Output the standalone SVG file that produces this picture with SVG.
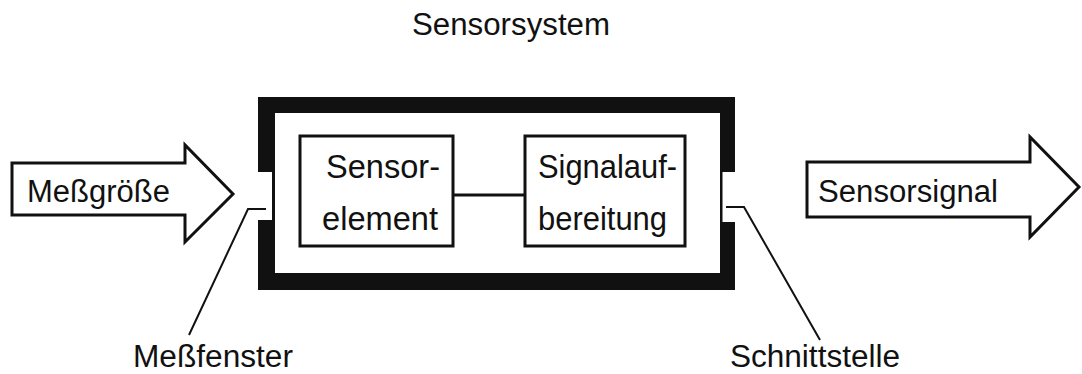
<svg xmlns="http://www.w3.org/2000/svg" width="1082" height="374" viewBox="0 0 1082 374">
<style>
text{font-family:"Liberation Sans",Arial,sans-serif;fill:#111}
.big{font-size:31px}
.box{fill:#fff;stroke:#111;stroke-width:3}
.arrow{fill:#fff;stroke:#111;stroke-width:3;stroke-linejoin:miter}
.frame{fill:#111}
.line{stroke:#111;fill:none}
</style>
<rect width="1082" height="374" fill="#fff"/>
<g id="title"><text class="big" x="412" y="35" textLength="198" lengthAdjust="spacingAndGlyphs">Sensorsystem</text></g>
<g id="input-arrow">
<polygon class="arrow" points="12,163 185,163 185,145 233,194 185,242 185,215 12,215"/>
<text class="big" x="27" y="202" textLength="143" lengthAdjust="spacingAndGlyphs">Meßgröße</text>
</g>
<g id="output-arrow">
<polygon class="arrow" points="807,162 1030,162 1030,137 1079,187 1030,237 1030,217 807,217"/>
<text class="big" x="818" y="202" textLength="180" lengthAdjust="spacingAndGlyphs">Sensorsignal</text>
</g>
<g id="sensor-frame">
<rect class="frame" x="258" y="97" width="477" height="16"/>
<rect class="frame" x="258" y="273" width="477" height="17"/>
<rect class="frame" x="258" y="97" width="17" height="75"/>
<rect class="frame" x="258" y="220" width="17" height="70"/>
<rect class="frame" x="720" y="97" width="15" height="75"/>
<rect class="frame" x="720" y="222" width="15" height="68"/>
<rect class="frame" x="272" y="170" width="3" height="52"/>
<rect class="frame" x="720" y="170" width="2.5" height="54"/>
</g>
<g id="sensorelement">
<rect class="box" x="300" y="136" width="153" height="110"/>
<text class="big" x="326" y="178" textLength="114" lengthAdjust="spacingAndGlyphs" style="font-size:33px">Sensor-</text>
<text class="big" x="322" y="230" textLength="116" lengthAdjust="spacingAndGlyphs" style="font-size:33px">element</text>
</g>
<g id="signalaufbereitung">
<rect class="box" x="525" y="136" width="160" height="110"/>
<text class="big" x="538" y="178" textLength="139" lengthAdjust="spacingAndGlyphs" style="font-size:33px">Signalauf-</text>
<text class="big" x="538" y="230" textLength="129" lengthAdjust="spacingAndGlyphs" style="font-size:33px">bereitung</text>
</g>
<g id="connectors">
<line class="line" x1="453" y1="195" x2="525" y2="195" stroke-width="3"/>
<polyline class="line" points="266,209 248,209 189,335" stroke-width="2"/>
<polyline class="line" points="726,207 744,207 820,340" stroke-width="2"/>
</g>
<g id="label-messfenster"><text class="big" x="133" y="367" textLength="160" lengthAdjust="spacingAndGlyphs">Meßfenster</text></g>
<g id="label-schnittstelle"><text class="big" x="730" y="367" textLength="170" lengthAdjust="spacingAndGlyphs">Schnittstelle</text></g>
</svg>
